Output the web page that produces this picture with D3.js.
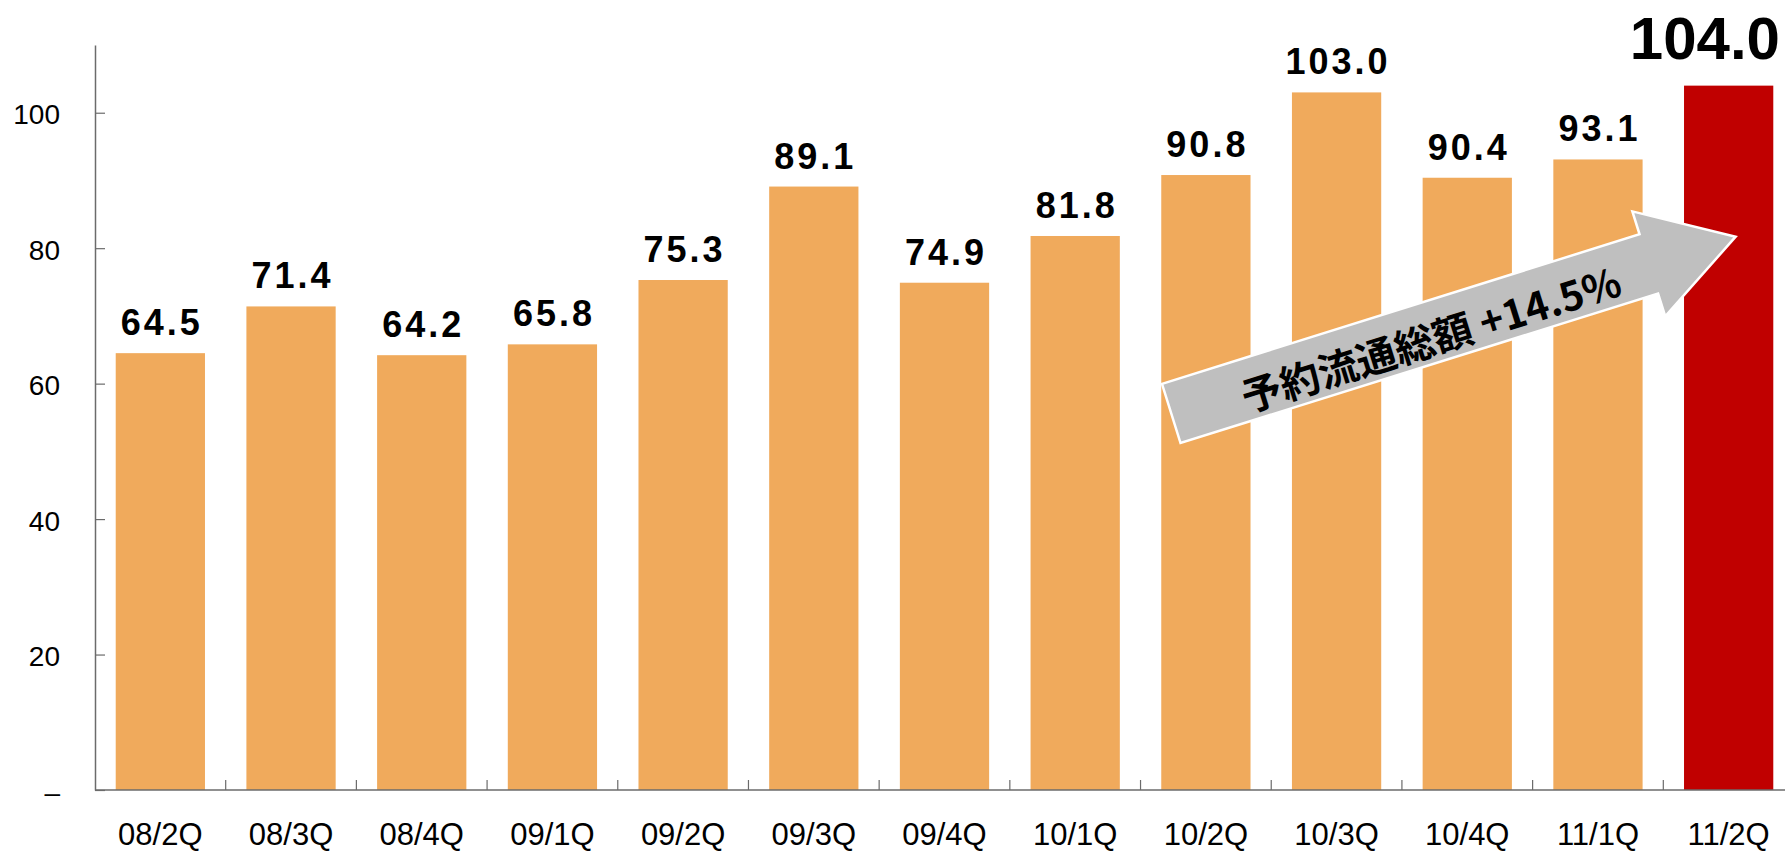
<!DOCTYPE html>
<html>
<head>
<meta charset="utf-8">
<script src="https://cdn.jsdelivr.net/npm/d3@7"></script>
<style>
  html, body { margin: 0; padding: 0; background: #fff; }
  svg { display: block; }
</style>
</head>
<body>
<div id="chart"></div>
<script>
// ---- data ----
const categories = ["08/2Q","08/3Q","08/4Q","09/1Q","09/2Q","09/3Q","09/4Q","10/1Q","10/2Q","10/3Q","10/4Q","11/1Q","11/2Q"];
const values = [64.5, 71.4, 64.2, 65.8, 75.3, 89.1, 74.9, 81.8, 90.8, 103.0, 90.4, 93.1, 104.0];
const yTickValues = [0, 20, 40, 60, 80, 100];
const yTickLabels = ["–", "20", "40", "60", "80", "100"];
const highlightCategory = "11/2Q";
const arrowLabel = "予約流通総額 +14.5%";
const arrowFrom = { category: "10/2Q", value: 55.6 };
const arrowTo = { category: "11/2Q", value: 81.7 };

(function () {
// ---- layout ----
const W = 1785, H = 853;
const mLeft = 95, mRight = 1794, mTop = 45, mBottom = 790;
const orange = "#F0AA5C", red = "#C00000", axisColor = "#6b6b6b";

const svg = d3.select("#chart").append("svg").attr("width", W).attr("height", H);

const xStep = d3.scaleBand().domain(categories).range([mLeft, mRight]).padding(0);
const xBar = d3.scaleBand().domain(categories).range([mLeft, mRight]).paddingInner(0.317).paddingOuter(0.1585);
const y = d3.scaleLinear().domain([0, 110]).range([mBottom, mTop]);

const data = categories.map((c, i) => ({ category: c, value: values[i] }));

// bars
svg.append("g").selectAll("rect").data(data).join("rect")
  .attr("x", d => xBar(d.category))
  .attr("width", xBar.bandwidth())
  .attr("y", d => y(d.value))
  .attr("height", d => y(0) - y(d.value))
  .attr("fill", d => d.category === highlightCategory ? red : orange);

// y axis
const yAxis = d3.axisLeft(y)
  .tickValues(yTickValues)
  .tickFormat((d, i) => yTickLabels[i])
  .tickSizeInner(-10)
  .tickSizeOuter(0)
  .tickPadding(35);
const gy = svg.append("g").attr("transform", `translate(${mLeft},0)`).call(yAxis);
gy.select(".domain").attr("stroke", axisColor).attr("stroke-width", 1.5);
gy.selectAll(".tick line").attr("stroke", axisColor).attr("stroke-width", 1.2);
gy.selectAll(".tick text")
  .attr("font-family", "'Liberation Sans', Arial, sans-serif")
  .attr("font-size", 28).attr("fill", "#000").attr("dy", "0.4em");

// x axis line + boundary ticks
const gx = svg.append("g");
gx.append("line").attr("x1", mLeft).attr("x2", mRight).attr("y1", y(0)).attr("y2", y(0))
  .attr("stroke", axisColor).attr("stroke-width", 1.5);
gx.selectAll("line.bt").data(categories).join("line").attr("class", "bt")
  .attr("x1", d => xStep(d) + xStep.bandwidth()).attr("x2", d => xStep(d) + xStep.bandwidth())
  .attr("y1", y(0)).attr("y2", y(0) - 10)
  .attr("stroke", axisColor).attr("stroke-width", 1.2);
gx.selectAll("text").data(categories).join("text")
  .attr("x", d => xBar(d) + xBar.bandwidth() / 2)
  .attr("y", y(0) + 55)
  .attr("text-anchor", "middle")
  .attr("font-family", "'Liberation Sans', Arial, sans-serif")
  .attr("font-size", 31).attr("fill", "#000")
  .text(d => d);

// value labels
svg.append("g").selectAll("text").data(data.filter(d => d.category !== highlightCategory)).join("text")
  .attr("x", d => xBar(d.category) + xBar.bandwidth() / 2 + 1.5)
  .attr("y", d => y(d.value) - 18)
  .attr("text-anchor", "middle")
  .attr("font-family", "'Liberation Sans', Arial, sans-serif")
  .attr("font-weight", "bold")
  .attr("font-size", 36)
  .attr("letter-spacing", "3px")
  .attr("fill", "#000")
  .text(d => d.value.toFixed(1));

const hl = data.find(d => d.category === highlightCategory);
svg.append("text")
  .attr("x", Math.min(W - 5, xBar(hl.category) + xBar.bandwidth() + 8))
  .attr("y", y(hl.value) - 27)
  .attr("text-anchor", "end")
  .attr("font-family", "'Liberation Sans', Arial, sans-serif")
  .attr("font-weight", "bold")
  .attr("font-size", 60)
  .attr("fill", "#000")
  .text(hl.value.toFixed(1));

// arrow annotation
const ax0 = xBar(arrowFrom.category) + 10, ay0 = y(arrowFrom.value);
const ax1 = xBar(arrowTo.category) + xBar.bandwidth() / 2 + 7, ay1 = y(arrowTo.value);
const len = Math.hypot(ax1 - ax0, ay1 - ay0);
const ang = Math.atan2(ay1 - ay0, ax1 - ax0) * 180 / Math.PI;
const shaftHalf = 31, headLen = 91, headHalf = 55;
const ga = svg.append("g").attr("transform", `translate(${ax0},${ay0}) rotate(${ang})`);
const pts = [
  [0, -shaftHalf], [len - headLen, -shaftHalf], [len - headLen, -headHalf], [len, 0],
  [len - headLen, headHalf], [len - headLen, shaftHalf], [0, shaftHalf]
];
ga.append("path")
  .attr("d", d3.line()(pts) + "Z")
  .attr("fill", "#BFBFBF")
  .attr("stroke", "#fff")
  .attr("stroke-width", 2.5)
  .attr("stroke-linejoin", "miter");
ga.append("text")
  .attr("x", 270).attr("y", 5)
  .attr("text-anchor", "middle")
  .attr("dominant-baseline", "central")
  .attr("font-family", "'Noto Sans CJK JP', sans-serif")
  .attr("font-weight", "bold")
  .attr("font-size", 40)
  .attr("fill", "#000")
  .text(arrowLabel);
})();
</script>
</body>
</html>
